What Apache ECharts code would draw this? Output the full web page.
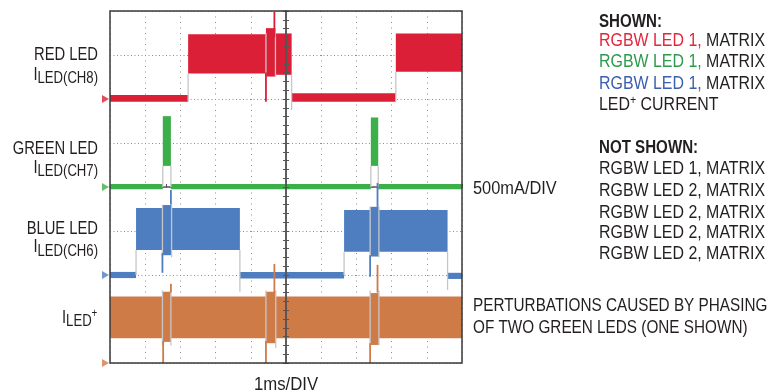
<!DOCTYPE html>
<html><head><meta charset="utf-8">
<script src="https://cdn.jsdelivr.net/npm/echarts@6/dist/echarts.min.js"></script>
<style>html,body{margin:0;padding:0;background:#fff}#c{width:769px;height:391px}</style>
</head><body><div id="c"></div>
<script>
// x: time in ms (1ms/DIV, screen centre = 0); y: level in divisions (500mA/DIV, centre = 0)
// bands: [tStart, tEnd, low, high] envelope of each trace
const redBands = [[-5,-2.78,1.94,2.09],[-2.78,-0.57,2.58,3.47],[-0.57,-0.30,2.51,3.61],[-0.30,0.16,2.55,3.49],[0.16,3.12,1.94,2.13],[3.12,5,2.62,3.49]];
const greenBands = [[-5,-3.50,-0.05,0.07],[-3.50,-3.27,0.48,1.61],[-3.27,2.41,-0.05,0.07],[2.41,2.62,0.48,1.58],[2.62,5,-0.05,0.07]];
const blueBands = [[-5,-4.26,-2.07,-1.93],[-4.26,-3.51,-1.43,-0.48],[-3.51,-3.25,-1.55,-0.41],[-3.25,-1.31,-1.43,-0.48],[-1.31,1.65,-2.08,-1.93],[1.65,2.39,-1.47,-0.52],[2.39,2.64,-1.58,-0.45],[2.64,4.59,-1.47,-0.52],[4.59,5,-2.09,-1.95]];
const orangeBands = [[-5,-3.51,-3.44,-2.49],[-3.51,-3.27,-3.52,-2.38],[-3.27,-0.57,-3.44,-2.49],[-0.57,-0.29,-3.55,-2.38],[-0.29,2.39,-3.44,-2.49],[2.39,2.64,-3.59,-2.41],[2.64,5,-3.44,-2.49]];
// spikes: [t, from, to]
const redSpikes = [[-0.57,1.94,2.6],[-0.33,3.4,3.98]];
const blueSpikes = [[-3.51,-1.95,-1.5],[-3.27,-0.4,-0.07],[2.39,-2.04,-1.55],[2.60,-0.45,0.09]];
const orangeSpikes = [[-3.49,-4,-3.5],[-3.27,-2.4,-2.2],[-0.57,-4,-3.5],[-0.33,-2.4,-1.75],[2.39,-4,-3.55],[2.60,-2.4,-1.77]];
// grey transition edges: [t, from, to]
const traceEdges = [[-2.78,1.94,2.58],[0.16,1.75,2.55],[3.12,1.94,2.62],[-0.57,2.5,3.5],[-0.30,2.5,3.55],
  [-3.50,0,0.48],[-3.27,0,0.48],[2.41,0,0.48],[2.62,0,0.48],
  [-4.26,-2,-1.43],[-1.31,-2.38,-1.43],[1.65,-2,-1.47],[4.59,-2.34,-1.47],[-3.51,-1.6,-0.4],[-3.25,-1.6,-0.4],[2.39,-1.6,-0.45],[2.64,-1.6,-0.45],
  [-3.51,-3.6,-2.35],[-3.27,-3.6,-2.35],[-0.57,-3.6,-2.35],[-0.29,-3.66,-2.35],[2.39,-3.6,-2.35],[2.64,-3.6,-2.35]];
// channel ground markers
const markerLevels = [2, 0, -2, -4];
const traceNames = ['RED LED', 'GREEN LED', 'BLUE LED', 'ILED+'];
const shownLines = ['RGBW LED 1,', 'RGBW LED 1,', 'RGBW LED 1,'];
const notShownLines = ['RGBW LED 1, MATRIX','RGBW LED 2, MATRIX','RGBW LED 2, MATRIX','RGBW LED 2, MATRIX','RGBW LED 2, MATRIX'];

const RED='#da1f36', GREEN='#3cae4a', BLUE='#4e7dc0', ORANGE='#cf7b47', INK='#231f20';
const markerColors=[RED,GREEN,BLUE,ORANGE];

const FONT='"Liberation Sans", Arial, sans-serif';
const DY=1.5;
const ctx=document.createElement('canvas').getContext('2d');
function tw(t,size,bold,sx){ctx.font=(bold?'bold ':'')+size+'px '+FONT;return ctx.measureText(t).width*sx;}
function label(parts,x,align,sx){
  sx=sx||0.82;
  const total=parts.reduce((s,p)=>s+tw(p[0],p[1],p[4],sx),0);
  let cx=align==='right'?x-total:align==='center'?x-total/2:x;
  return parts.map(p=>{
    const el={type:'text',x:cx,y:p[2]+DY,scaleX:sx,style:{text:p[0],fontSize:p[1],fontFamily:FONT,fontWeight:p[4]?'bold':'normal',fill:p[3]||INK,textAlign:'left',textVerticalAlign:'middle',align:'left',verticalAlign:'middle'}};
    cx+=tw(p[0],p[1],p[4],sx);return el;});
}
const SR=0.885;
let g=[];
g=g.concat(label([[traceNames[0],18,53.5]],98,'right'));
g=g.concat(label([['I',18,73.5],['LED(CH8)',16,77.5]],98,'right'));
g=g.concat(label([[traceNames[1],18,148]],98,'right'));
g=g.concat(label([['I',18,166.5],['LED(CH7)',16,170.5]],98,'right'));
g=g.concat(label([[traceNames[2],18,227.5]],98,'right'));
g=g.concat(label([['I',18,246],['LED(CH6)',16,250]],98,'right'));
g=g.concat(label([['I',18,316.5],['LED',16,320.5],['+',12,312]],62,'left'));
g=g.concat(label([['SHOWN:',18,20.5,INK,true]],599,'left',0.84));
const shownCol=['#e3263b','#2e9a4d','#3c5fae'];
[40,61,82.5].forEach((y,i)=>{g=g.concat(label([[shownLines[i],18,y,shownCol[i]],[' MATRIX',18,y]],599,'left',SR));});
g=g.concat(label([['LED',18,103.5],['+',12,99],[' CURRENT',18,103.5]],599,'left',SR));
g=g.concat(label([['NOT SHOWN:',18,146.5,INK,true]],599,'left',0.84));
[168,190,211.5,232,253].forEach((y,i)=>{g=g.concat(label([[notShownLines[i],18,y]],599,'left',SR));});
g=g.concat(label([['500mA/DIV',18,187.5]],473,'left',0.91));
g=g.concat(label([['PERTURBATIONS CAUSED BY PHASING',18,305]],473,'left',0.85));
g=g.concat(label([['OF TWO GREEN LEDS (ONE SHOWN)',18,326.5]],473,'left',0.85));
g=g.concat(label([['1ms/DIV',18,383.5]],286,'center',0.93));

function bandItem(params,api){
  const p0=api.coord([api.value(0),api.value(3)]);
  const p1=api.coord([api.value(1),api.value(2)]);
  return {type:'rect',shape:{x:p0[0],y:p0[1],width:p1[0]-p0[0],height:p1[1]-p0[1]},style:{fill:api.visual('color')}};
}
function lineMaker(w){return function(params,api){
  const a=api.coord([api.value(0),api.value(1)]);
  const b=api.coord([api.value(0),api.value(2)]);
  return {type:'line',shape:{x1:a[0],y1:a[1],x2:b[0],y2:b[1]},style:{stroke:api.visual('color'),lineWidth:w}};
};}
function bands(data,color,z){return {type:'custom',renderItem:bandItem,data:data,itemStyle:{color:color},encode:{x:[0,1],y:[2,3]},z:z,clip:true,silent:true};}
function lines(data,color,w,z){return {type:'custom',renderItem:lineMaker(w),data:data,itemStyle:{color:color},encode:{x:0,y:[1,2]},z:z,clip:true,silent:true};}

const ax={type:'value',min:-5,max:5,interval:1};
const ay={type:'value',min:-4,max:4,interval:1};
const option={
  animation:false,
  backgroundColor:'#fff',
  grid:{left:110,top:11,width:352,height:352,show:true,borderColor:'#3a3a3a',borderWidth:1.5,backgroundColor:'transparent',z:10},
  xAxis:[
    Object.assign({},ax,{axisLine:{show:false},axisTick:{show:false},axisLabel:{show:false},splitLine:{show:true,lineStyle:{color:'#8c8c8c',width:1,type:[1,4.5]}},z:0}),
    Object.assign({},ax,{axisLine:{show:true,onZero:true,onZeroAxisIndex:0,lineStyle:{color:'#555',width:1.5}},axisTick:{show:true,length:3,lineStyle:{color:'#555'}},minorTick:{show:true,splitNumber:5,length:3,lineStyle:{color:'#555'}},axisLabel:{show:false},splitLine:{show:false},z:1})
  ],
  yAxis:[
    Object.assign({},ay,{axisLine:{show:false},axisTick:{show:false},axisLabel:{show:false},splitLine:{show:true,lineStyle:{color:'#8c8c8c',width:1,type:[1,2.5]}},z:0}),
    Object.assign({},ay,{position:'left',axisLine:{show:true,onZero:true,onZeroAxisIndex:0,lineStyle:{color:'#555',width:1.5}},axisTick:{show:true,length:3,lineStyle:{color:'#555'}},minorTick:{show:true,splitNumber:5,length:3,lineStyle:{color:'#555'}},axisLabel:{show:false},splitLine:{show:false},z:8}),
    Object.assign({},ay,{position:'left',axisLine:{show:true,onZero:true,onZeroAxisIndex:0,lineStyle:{color:'#555',width:1.5}},axisTick:{show:true,inside:true,length:3,lineStyle:{color:'#555'}},minorTick:{show:true,splitNumber:5,length:3,lineStyle:{color:'#555'}},axisLabel:{show:false},splitLine:{show:false},z:8})
  ],
  series:[
    bands(redBands,RED,2), bands(greenBands,GREEN,2), bands(blueBands,BLUE,2), bands(orangeBands,ORANGE,2),
    lines(traceEdges,'#c6c6c6',1.3,3),
    lines(redSpikes,RED,1.8,4), lines(blueSpikes,BLUE,1.8,4), lines(orangeSpikes,ORANGE,1.8,4),
    {type:'scatter',data:markerLevels.map((v,i)=>({value:[-5,v],itemStyle:{color:markerColors[i]}})),symbol:'path://M0,0L10,5L0,10Z',symbolKeepAspect:false,symbolSize:[7,8],symbolOffset:[-4.5,0],clip:false,z:11,silent:true}
  ],
  graphic:g
};
const chart=echarts.init(document.getElementById('c'),null,{renderer:'canvas'});
chart.setOption(option);
</script></body></html>
